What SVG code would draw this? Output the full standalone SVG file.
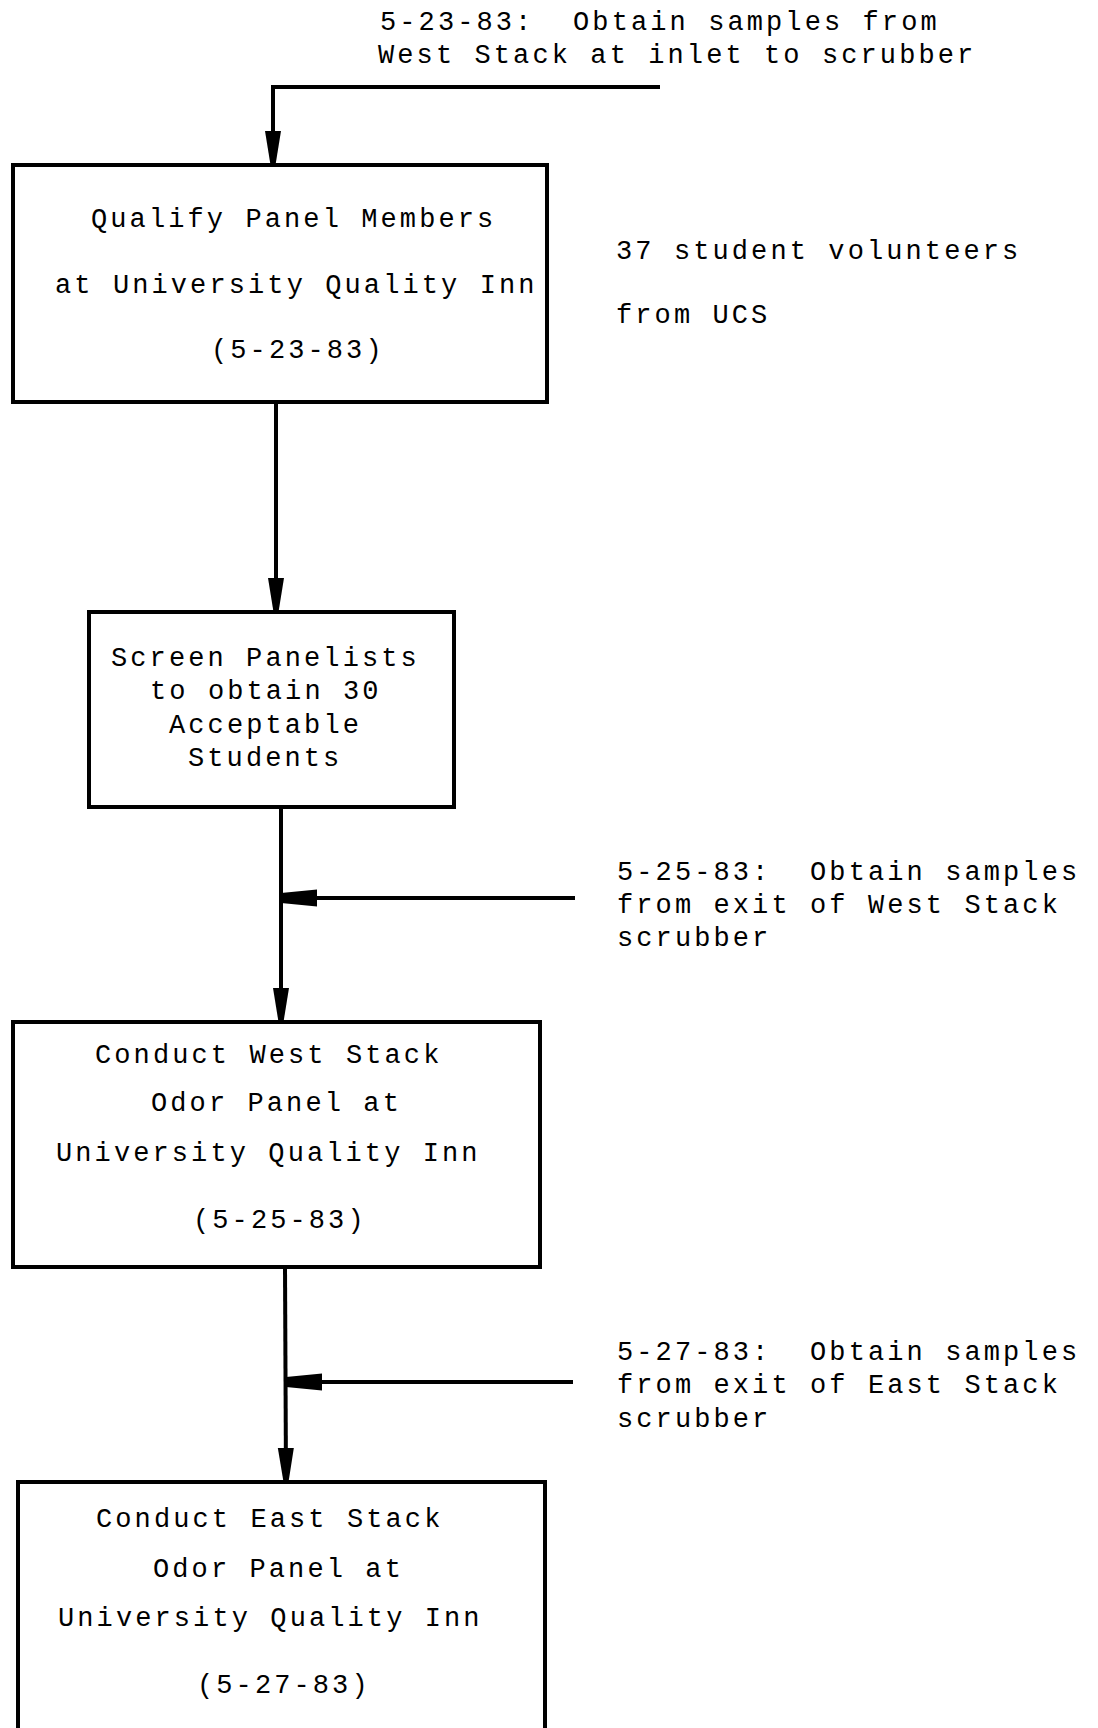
<svg xmlns="http://www.w3.org/2000/svg" width="1098" height="1728" viewBox="0 0 1098 1728">
<style>
text{font-family:"Liberation Mono","DejaVu Sans Mono",monospace;font-size:27px;letter-spacing:3.1px;fill:#000;white-space:pre}
.box{fill:#fff;stroke:#000;stroke-width:4}
.c{fill:none;stroke:#000;stroke-width:4}
</style>
<defs>
<marker id="ad" markerUnits="userSpaceOnUse" viewBox="-36 -10 38 20" markerWidth="38" markerHeight="20" refX="0" refY="0" orient="auto">
<path d="M -34 -8 L -34 8 L 0 2.5 L 0 -2.5 Z" fill="#000"/>
</marker>
<marker id="al" markerUnits="userSpaceOnUse" viewBox="-38 -10 40 20" markerWidth="40" markerHeight="20" refX="0" refY="0" orient="auto">
<path d="M -36 -8.5 L -36 8.5 L 0 5 L 0 -5 Z" fill="#000"/>
</marker>
</defs>
<rect width="1098" height="1728" fill="#fff"/>
<g id="connectors">
<polyline class="c" points="660,87 273,87 273,165" marker-end="url(#ad)"/>
<line class="c" x1="276" y1="402" x2="276" y2="612" marker-end="url(#ad)"/>
<line class="c" x1="281" y1="807" x2="281" y2="1022" marker-end="url(#ad)"/>
<line class="c" x1="575" y1="898" x2="281" y2="898" marker-end="url(#al)"/>
<line class="c" x1="285" y1="1267" x2="286" y2="1482" marker-end="url(#ad)"/>
<line class="c" x1="573" y1="1382" x2="286" y2="1382" marker-end="url(#al)"/>
</g>
<g id="note-top">
<text x="380" y="30" xml:space="preserve">5-23-83:  Obtain samples from</text>
<text x="378" y="63">West Stack at inlet to scrubber</text>
</g>
<g id="box-qualify">
<rect class="box" x="13" y="165" width="534" height="237"/>
<text x="91" y="227">Qualify Panel Members</text>
<text x="55" y="293">at University Quality Inn</text>
<text x="211" y="358">(5-23-83)</text>
</g>
<g id="note-volunteers">
<text x="616" y="259">37 student volunteers</text>
<text x="616" y="323">from UCS</text>
</g>
<g id="box-screen">
<rect class="box" x="89" y="612" width="365" height="195"/>
<text x="111" y="666">Screen Panelists</text>
<text x="150" y="699">to obtain 30</text>
<text x="169" y="733">Acceptable</text>
<text x="188" y="766">Students</text>
</g>
<g id="note-west-exit">
<text x="617" y="880" xml:space="preserve">5-25-83:  Obtain samples</text>
<text x="617" y="913">from exit of West Stack</text>
<text x="617" y="946">scrubber</text>
</g>
<g id="box-west">
<rect class="box" x="13" y="1022" width="527" height="245"/>
<text x="95" y="1063">Conduct West Stack</text>
<text x="151" y="1111">Odor Panel at</text>
<text x="56" y="1161">University Quality Inn</text>
<text x="193" y="1228">(5-25-83)</text>
</g>
<g id="note-east-exit">
<text x="617" y="1360" xml:space="preserve">5-27-83:  Obtain samples</text>
<text x="617" y="1393">from exit of East Stack</text>
<text x="617" y="1427">scrubber</text>
</g>
<g id="box-east">
<path class="box" d="M 18 1740 L 18 1482 L 545 1482 L 545 1740"/>
<text x="96" y="1527">Conduct East Stack</text>
<text x="153" y="1577">Odor Panel at</text>
<text x="58" y="1626">University Quality Inn</text>
<text x="197" y="1693">(5-27-83)</text>
</g>
</svg>
